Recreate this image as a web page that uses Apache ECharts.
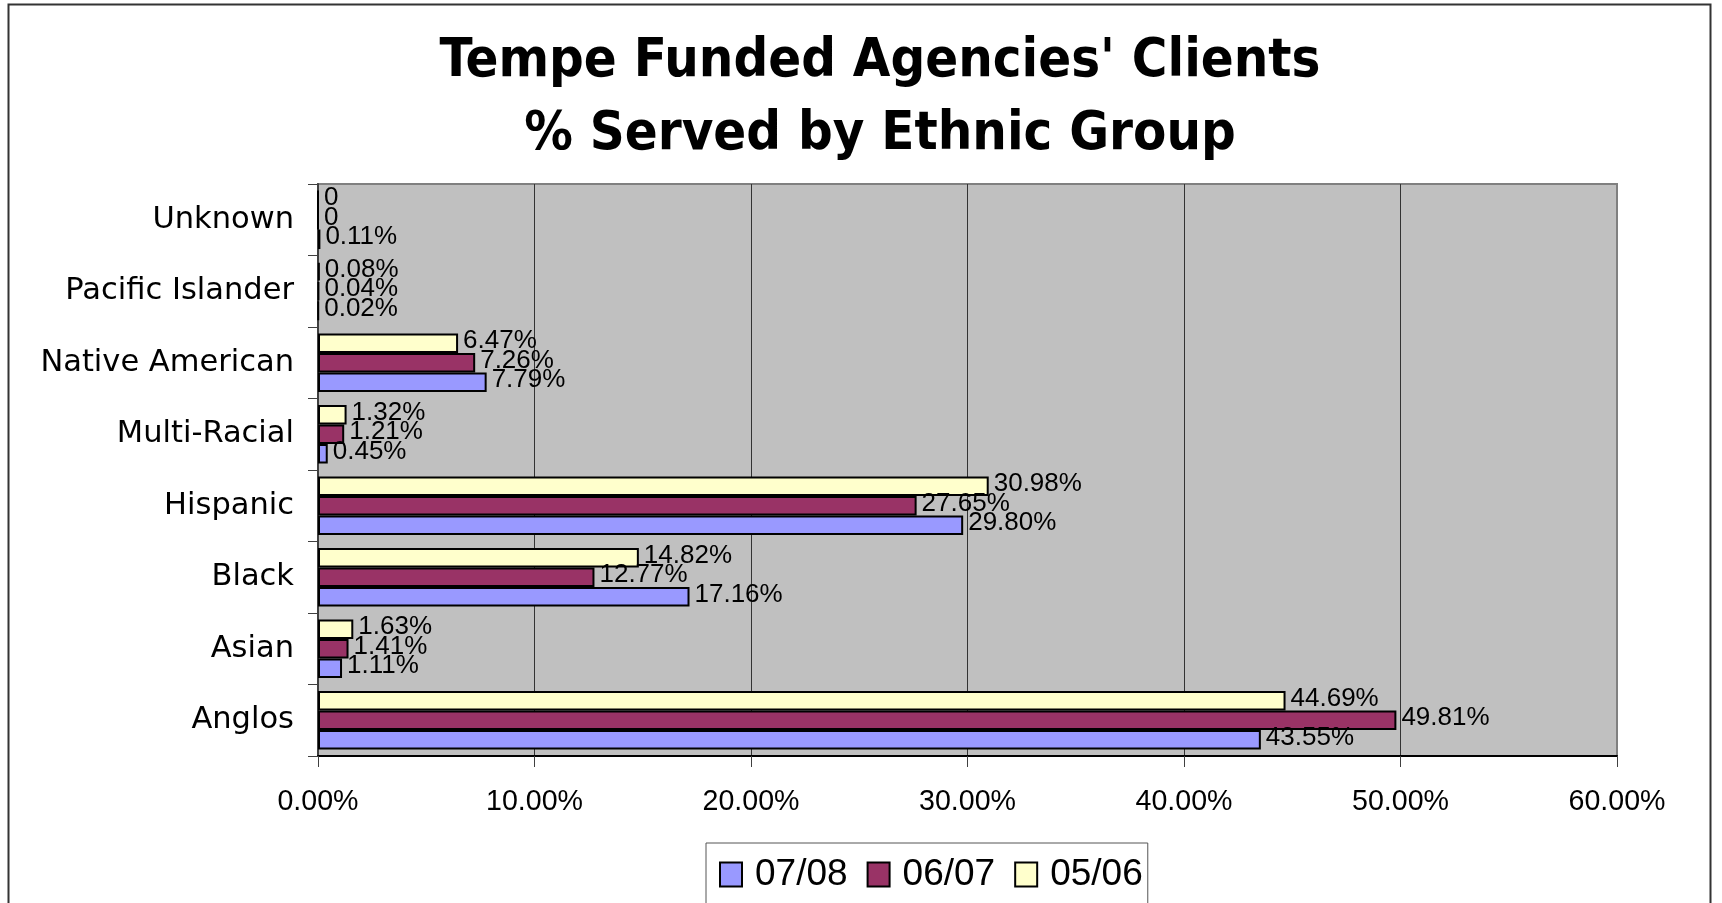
<!DOCTYPE html>
<html>
<head>
<meta charset="utf-8">
<style>
  html, body { margin: 0; padding: 0; background: #ffffff; }
  #chart { width: 1722px; height: 903px; }
</style>
<script src="https://cdn.jsdelivr.net/npm/echarts@6/dist/echarts.min.js"></script>
</head>
<body>
<div id="chart"></div>
<script>
// ---- data ----
var categories = ['Anglos', 'Asian', 'Black', 'Hispanic', 'Multi-Racial', 'Native American', 'Pacific Islander', 'Unknown'];
var seriesNames = ['07/08', '06/07', '05/06'];
var values0708 = [43.55, 1.11, 17.16, 29.80, 0.45, 7.79, 0.02, 0.11];
var values0607 = [49.81, 1.41, 12.77, 27.65, 1.21, 7.26, 0.04, 0];
var values0506 = [44.69, 1.63, 14.82, 30.98, 1.32, 6.47, 0.08, 0];
var xTicks = [0, 10, 20, 30, 40, 50, 60];

var colors = ['#9999FF', '#993366', '#FFFFCC'];
var seriesValues = [values0708, values0607, values0506];

var chart = echarts.init(document.getElementById('chart'));

function labelFmt(p) {
  return p.value === 0 ? '0' : p.value.toFixed(2) + '%';
}

// ECharts lays out horizontal bar groups top-down in series order,
// so add series in reverse to put 05/06 on top and 07/08 at the bottom.
var series = [];
for (var i = seriesNames.length - 1; i >= 0; i--) {
  series.push({
    name: seriesNames[i],
    type: 'bar',
    data: seriesValues[i],
    barGap: '0%',
    barCategoryGap: '18%',
    itemStyle: { color: colors[i], borderColor: '#000000', borderWidth: 2 },
    label: {
      show: true,
      position: 'right',
      distance: 5,
      offset: [0, -2],
      formatter: labelFmt,
      color: '#000000',
      fontFamily: 'Liberation Sans, Arial, sans-serif',
      fontSize: 26
    },
    emphasis: { disabled: true }
  });
}

var option = {
  animation: false,
  backgroundColor: '#ffffff',
  title: {
    text: "Tempe Funded Agencies' Clients\n% Served by Ethnic Group",
    left: 880,
    top: 25,
    padding: 0,
    textAlign: 'center',
    textStyle: {
      fontFamily: "'DejaVu Sans Condensed', 'DejaVu Sans', sans-serif",
      fontWeight: 'bold',
      fontSize: 54,
      lineHeight: 73,
      color: '#000000'
    }
  },
  legend: {
    data: seriesNames,
    left: 706,
    top: 843,
    orient: 'horizontal',
    padding: [13, 5, 19, 13],
    itemWidth: 22,
    itemHeight: 24,
    itemGap: 19,
    icon: 'rect',
    borderColor: '#555555',
    borderWidth: 1,
    backgroundColor: '#ffffff',
    itemStyle: { borderColor: '#000000', borderWidth: 2 },
    textStyle: {
      fontFamily: 'Liberation Sans, Arial, sans-serif',
      fontSize: 37,
      color: '#000000',
      padding: [0, 0, 0, 8]
    },
    selectedMode: false
  },
  graphic: [{
    type: 'rect',
    shape: { x: 8.5, y: 4.5, width: 1702, height: 1000 },
    style: { fill: 'none', stroke: '#333333', lineWidth: 2 },
    silent: true,
    z: -10
  }],
  grid: {
    left: 318,
    right: 105,
    top: 184,
    bottom: 147,
    show: true,
    backgroundColor: '#C0C0C0',
    borderColor: '#808080',
    borderWidth: 2,
    containLabel: false,
    outerBoundsMode: 'none'
  },
  xAxis: {
    type: 'value',
    min: xTicks[0],
    max: xTicks[xTicks.length - 1],
    interval: 10,
    axisLine: { show: true, lineStyle: { color: '#000000', width: 2 } },
    axisTick: { show: true, length: 11, lineStyle: { color: '#404040', width: 1 } },
    splitLine: { show: true, showMinLine: false, showMaxLine: false, lineStyle: { color: '#333333', width: 1 } },
    axisLabel: {
      margin: 32,
      formatter: function (v) { return v.toFixed(2) + '%'; },
      color: '#000000',
      fontFamily: 'Liberation Sans, Arial, sans-serif',
      fontSize: 28.6
    }
  },
  yAxis: {
    type: 'category',
    data: categories,
    axisLine: { show: true, lineStyle: { color: '#404040', width: 2 } },
    axisTick: { show: true, length: 10, lineStyle: { color: '#404040', width: 1 } },
    splitLine: { show: false },
    axisLabel: {
      margin: 24,
      color: '#000000',
      fontFamily: "'DejaVu Sans', sans-serif",
      fontSize: 30.5
    }
  },
  series: series
};

chart.setOption(option);
</script>
</body>
</html>
